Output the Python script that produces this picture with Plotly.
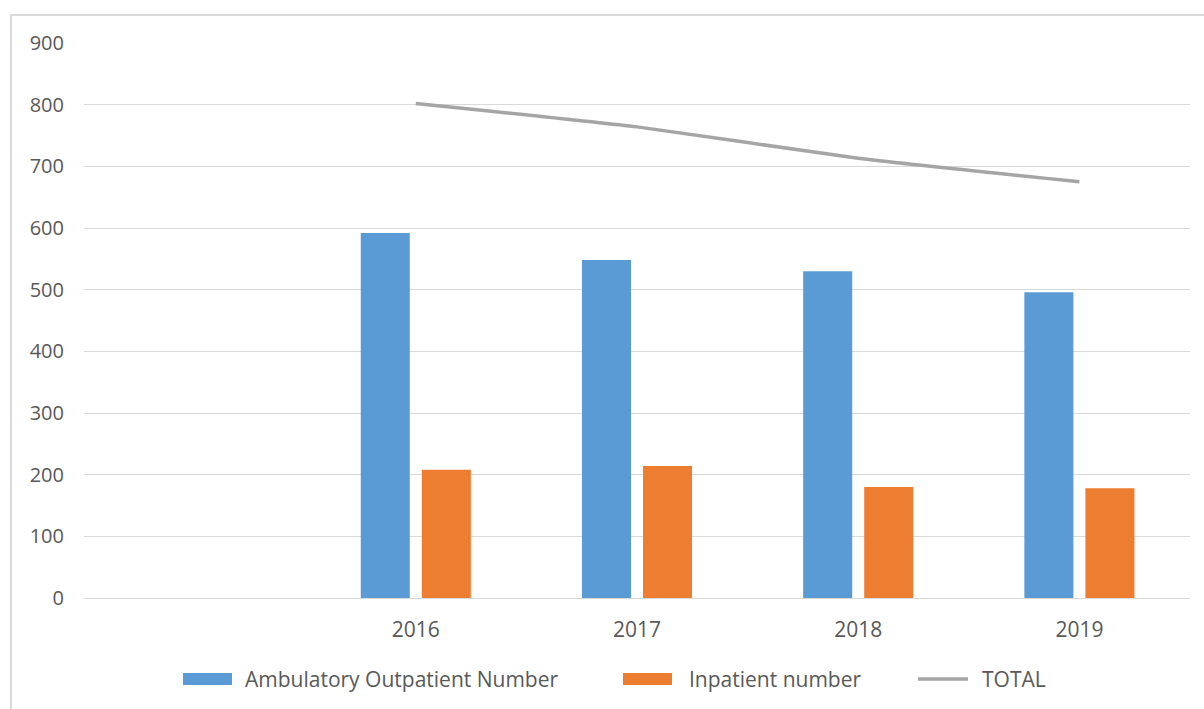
import plotly.graph_objects as go

# Categories (leading blank slot keeps the empty first position on the axis)
categories = [" ", "2016", "2017", "2018", "2019"]
outpatients = [None, 592, 548, 530, 496]
inpatients = [None, 208, 214, 180, 178]
totals = [None, 802, 764, 713, 675]
y_ticks = [0, 100, 200, 300, 400, 500, 600, 700, 800, 900]

BLUE = "#5B9BD5"
ORANGE = "#ED7D31"
GRAY = "#A5A5A5"
TEXT = "#595959"
FONT = "Open Sans"

fig = go.Figure()
fig.add_trace(go.Bar(x=categories, y=outpatients, name="Ambulatory Outpatient Number",
                     marker=dict(color=BLUE, line=dict(width=0)), showlegend=False))
fig.add_trace(go.Bar(x=categories, y=inpatients, name="Inpatient number",
                     marker=dict(color=ORANGE, line=dict(width=0)), showlegend=False))
fig.add_trace(go.Scatter(x=categories, y=totals, name="TOTAL", mode="lines",
                         line=dict(color=GRAY, width=3.5, shape="spline", smoothing=0.5),
                         connectgaps=False, showlegend=False))

# Plot area geometry in pixels, used to place the outer frame and legend
W, H = 1204, 709
L, R, T, B = 84, 14, 43, 111
pw, ph = W - L - R, H - T - B


def px(x):
    return (x - L) / pw


def py(y):
    return (H - B - y) / ph


shapes = [
    # outer chart frame
    dict(type="rect", xref="paper", yref="paper", x0=px(11), x1=px(1215),
         y0=py(720), y1=py(15), line=dict(color="#D9D9D9", width=2), layer="below"),
    # legend swatches
    dict(type="rect", xref="paper", yref="paper", x0=px(183), x1=px(232),
         y0=py(685), y1=py(673), fillcolor=BLUE, line=dict(width=0)),
    dict(type="rect", xref="paper", yref="paper", x0=px(623), x1=px(672),
         y0=py(685), y1=py(673), fillcolor=ORANGE, line=dict(width=0)),
    dict(type="line", xref="paper", yref="paper", x0=px(918), x1=px(968),
         y0=py(679), y1=py(679), line=dict(color=GRAY, width=3.5)),
]

legend_labels = [("Ambulatory Outpatient Number", 243),
                 ("Inpatient number", 687),
                 ("TOTAL", 980)]
annotations = [
    dict(text=t, xref="paper", yref="paper", x=px(x0), y=py(679),
         xanchor="left", yanchor="middle", showarrow=False,
         font=dict(family=FONT, size=21, color=TEXT))
    for t, x0 in legend_labels
]

fig.update_layout(
    width=W, height=H,
    margin=dict(l=L, r=R, t=T, b=B),
    paper_bgcolor="white", plot_bgcolor="white",
    barmode="group", bargap=0.448, bargroupgap=0.197,
    font=dict(family=FONT, size=20, color=TEXT),
    shapes=shapes, annotations=annotations,
    xaxis=dict(type="category", categoryorder="array", categoryarray=categories,
               range=[-0.5, 4.5], showgrid=False, showline=False, zeroline=False,
               ticks="", ticklabelstandoff=17,
               tickfont=dict(family=FONT, size=21, color=TEXT)),
    yaxis=dict(range=[0, 900], tickvals=y_ticks, showgrid=True, gridcolor="#D9D9D9",
               gridwidth=1, zeroline=True, zerolinecolor="#D9D9D9", zerolinewidth=1,
               showline=False, ticks="", ticklabelstandoff=19,
               tickfont=dict(family=FONT, size=20, color=TEXT)),
)

fig.write_html("out.html")
